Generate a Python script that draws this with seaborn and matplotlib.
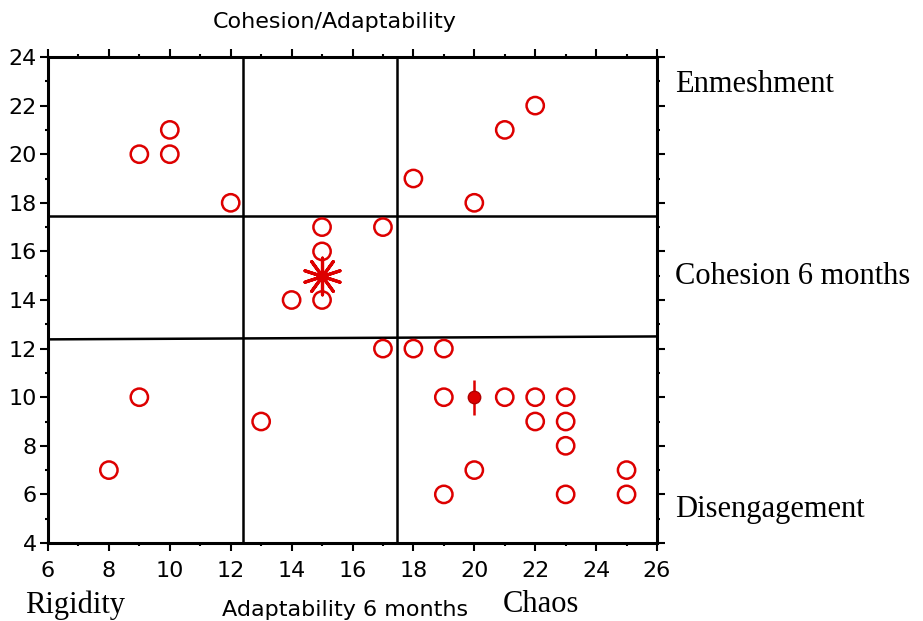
import matplotlib
matplotlib.use("Agg")
import matplotlib.pyplot as plt
import seaborn as sns
import pandas as pd
from matplotlib.ticker import MultipleLocator

# data
adapt_x = [9, 10, 10, 12,
           18, 20, 21, 22,
           15, 17, 15, 14, 15,
           17, 18, 19, 19, 21, 22, 23, 22, 23, 23, 20, 25, 19, 23, 25,
           9, 13, 8]
cohesion_y = [20, 21, 20, 18,
              19, 18, 21, 22,
              17, 17, 16, 14, 14,
              12, 12, 12, 10, 10, 10, 10, 9, 9, 8, 7, 7, 6, 6, 6,
              10, 9, 7]

# group means (asterisk = mean, dot = second mean) with vertical error
mean_x = [15, 20]
mean_y = [15, 10]
mean_err = [0.75, 0.72]

# cut-off lines
cut_x = [12.4, 17.45]
cut_y_upper = [17.45, 17.45]
cut_y_lower = [12.38, 12.5]

RED = "#dd0000"

sns.set_style("ticks")
plt.rcParams['font.family'] = ['DejaVu Sans']
plt.rcParams['text.color'] = 'black'

fig = plt.figure(figsize=(9.23, 6.21), dpi=100)
ax = fig.add_axes([48 / 923, 1 - 543 / 621, (657 - 48) / 923, (543 - 57) / 621])

df = pd.DataFrame({'Adaptability': adapt_x, 'Cohesion': cohesion_y})

# separating lines
ax.plot([cut_x[0], cut_x[0]], [4, 24], color='black', lw=1.8, zorder=1)
ax.plot([cut_x[1], cut_x[1]], [4, 23.9], color='black', lw=1.8, zorder=1)
ax.plot([6, 26], cut_y_upper, color='black', lw=1.8, zorder=1)
ax.plot([6, 26], cut_y_lower, color='black', lw=1.8, zorder=1)

sns.scatterplot(data=df, x='Adaptability', y='Cohesion', marker='o', s=155,
                facecolor='none', edgecolor=RED, linewidth=1.8, ax=ax, zorder=3)

# error bars for the means
ax.errorbar(mean_x, mean_y, yerr=mean_err, fmt='none', ecolor=RED,
            elinewidth=1.8, capsize=0, zorder=4)
sns.scatterplot(x=[mean_x[0]], y=[mean_y[0]], marker=(10, 2, 0), s=700,
                color=RED, linewidth=2.3, ax=ax, zorder=5)
sns.scatterplot(x=[mean_x[1]], y=[mean_y[1]], marker='o', s=80,
                color=RED, edgecolor='#b00000', linewidth=1, ax=ax, zorder=5)

ax.set_xlim(6, 26)
ax.set_ylim(4, 24)
ax.xaxis.set_major_locator(MultipleLocator(2))
ax.xaxis.set_minor_locator(MultipleLocator(1))
ax.yaxis.set_major_locator(MultipleLocator(2))
ax.yaxis.set_minor_locator(MultipleLocator(1))
ax.tick_params(which='both', direction='out', top=True, right=True,
               bottom=True, left=True, width=1.5, colors='black',
               labelcolor='black')
ax.tick_params(which='major', length=6, labelsize=16, pad=2)
ax.tick_params(which='minor', length=2.5)
ax.tick_params(axis='x', labelsize=16, pad=7)
for s in ax.spines.values():
    s.set_linewidth(2.2)
    s.set_color('black')
ax.set_xlabel('')
ax.set_ylabel('')

fig.text(335 / 923, 1 - 22 / 621, 'Cohesion/Adaptability', ha='center',
         va='center', fontsize=16, color='black')
fig.text(345 / 923, 1 - 610 / 621, 'Adaptability 6 months', ha='center',
         va='center', fontsize=16, color='black')

serif = ['Liberation Serif', 'DejaVu Serif']
fig.text(675 / 923, 1 - 85 / 621, 'Enmeshment', ha='left', va='center',
         fontsize=22, family=serif, color='black')
fig.text(675 / 923, 1 - 276 / 621, 'Cohesion 6 months', ha='left', va='center',
         fontsize=22, family=serif, color='black')
fig.text(675 / 923, 1 - 509 / 621, 'Disengagement', ha='left', va='center',
         fontsize=22, family=serif, color='black')
fig.text(25 / 923, 1 - 605 / 621, 'Rigidity', ha='left', va='center',
         fontsize=22, family=serif, color='black')
fig.text(503 / 923, 1 - 605 / 621, 'Chaos', ha='left', va='center',
         fontsize=22, family=serif, color='black')

fig.savefig('out.png', dpi=100)
